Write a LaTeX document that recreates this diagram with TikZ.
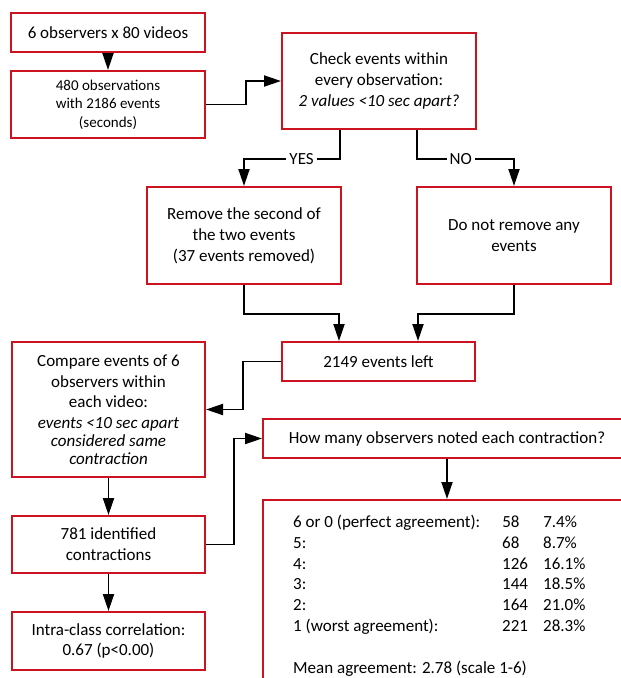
\documentclass[tikz,border=0pt]{standalone}
\usepackage{fontspec}
\setmainfont{Carlito}
\usetikzlibrary{arrows.meta}
\definecolor{boxred}{RGB}{204,20,32}
\begin{document}
\begin{tikzpicture}[x=1pt,y=-1pt,
  fbox/.style={draw=boxred, line width=2pt, fill=white, align=center, inner sep=0pt,
    font=\fontsize{17}{20.8}\selectfont},
  arr/.style={line width=1.9pt, -{Triangle[length=17pt,width=11pt]}},
  lbl/.style={fill=white, inner sep=3pt, font=\fontsize{17}{20.8}\selectfont}]
\useasboundingbox (0,0) rectangle (621,678);
\fill[white] (0,0) rectangle (621,678);
\clip (0,0) rectangle (621,678);

\node[fbox, minimum width=194pt, minimum height=39pt] (A) at (108,32.5) {6 observers x 80 videos};
\node[fbox, minimum width=194pt, minimum height=67pt, font=\fontsize{15}{18.5}\selectfont] (B) at (108,104.5) {480 observations\\with 2186 events\\(seconds)};
\node[fbox, minimum width=194pt, minimum height=96pt] (C) at (379,81) {Check events within\\every observation:\\\textit{2 values <10 sec apart?}};
\node[fbox, minimum width=194pt, minimum height=97pt] (D) at (244,235.5) {Remove the second of\\the two events\\(37 events removed)};
\node[fbox, minimum width=194pt, minimum height=97pt] (E) at (514,235.5) {Do not remove any\\events};
\node[fbox, minimum width=193pt, minimum height=39pt] (F) at (378.5,361.5) {2149 events left};
\node[fbox, minimum width=193pt, minimum height=135pt] (G) at (108.5,409.5) {Compare events of 6\\observers within\\each video:\\\textit{events <10 sec apart}\\[-3pt]\textit{considered same}\\[-3pt]\textit{contraction}};
\node[fbox, minimum width=193pt, minimum height=57pt] (H) at (108.5,544.5) {781 identified\\contractions};
\node[fbox, minimum width=193pt, minimum height=58pt] (K) at (108.5,641) {Intra-class correlation:\\0.67 (p<0.00)};
\node[fbox, minimum width=368pt, minimum height=39pt] (I) at (447,438.5) {How many observers noted each contraction?};
\node[fbox, minimum width=368pt, minimum height=220pt] (J) at (447,610) {};
\node[anchor=base west, inner sep=0pt, align=left, font=\fontsize{17}{20.8}\selectfont] (tab) at (293,527.5)
  {\begin{tabular}[t]{@{}p{209pt}@{}p{41pt}@{}l@{}}
   6 or 0 (perfect agreement): & 58 & 7.4\%\\
   5: & 68 & 8.7\%\\
   4: & 126 & 16.1\%\\
   3: & 144 & 18.5\%\\
   2: & 164 & 21.0\%\\
   1 (worst agreement): & 221 & 28.3\%\\
   & & \\
   \multicolumn{3}{@{}l@{}}{Mean agreement: 2.78 (scale 1-6)}
   \end{tabular}};

\draw[arr] (A.south) -- (B.north);
\draw[arr] (B.east) -- ++(40,0) |- (C.west);
\draw[arr] ([xshift=59pt]C.south west) -- ++(0,29) -| node[lbl, pos=0.2] {YES} (D.north);
\draw[arr] ([xshift=136pt]C.south west) -- ++(0,29) -| node[lbl, pos=0.225] {NO} (E.north);
\draw[arr] (D.south) -- ++(0,29) -| ([xshift=58pt]F.north west);
\draw[arr] (E.south) -- ++(0,29) -| ([xshift=137pt]F.north west);
\draw[arr] (F.west) -- ++(-38,0) |- (G.east);
\draw[arr] (G.south) -- (H.north);
\draw[arr] (H.south) -- (K.north);
\draw[arr] (H.east) -- ++(28,0) |- (I.west);
\draw[arr] (I.south) -- (J.north);
\end{tikzpicture}
\end{document}
